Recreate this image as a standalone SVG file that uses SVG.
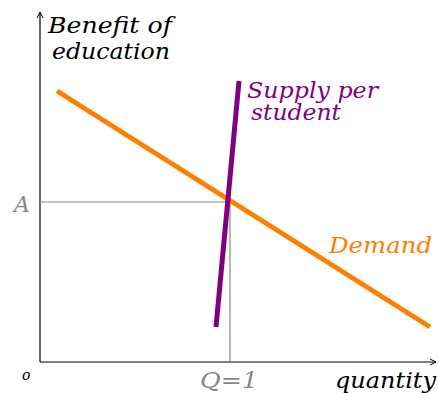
<svg xmlns="http://www.w3.org/2000/svg" width="438" height="393" viewBox="0 0 438 393">
<style>
text{font-family:"DejaVu Serif","Liberation Serif",serif;font-style:italic;font-size:22px}
.axis{stroke:#000;stroke-width:1.2;fill:none}
.guide{stroke:#888;stroke-width:1.2;fill:none}
</style>
<defs>
<marker id="ah" markerWidth="8" markerHeight="8" refX="6" refY="4" orient="auto" markerUnits="userSpaceOnUse">
<path d="M0,1 L6,4 L0,7" fill="none" stroke="#000" stroke-width="1"/>
</marker>
</defs>
<rect width="438" height="393" fill="#fff"/>
<g id="connectors">
<line class="axis" x1="40" y1="362" x2="40" y2="12" marker-end="url(#ah)"/>
<line class="axis" x1="40" y1="362" x2="436" y2="362" marker-end="url(#ah)"/>
<line class="guide" x1="40" y1="202" x2="230" y2="202"/>
<line class="guide" x1="230" y1="202" x2="230" y2="362"/>
</g>
<g id="demand">
<line x1="57" y1="91" x2="430" y2="327" stroke="#ff7f00" stroke-width="5"/>
<text x="329" y="253" fill="#ff7f00" textLength="103" lengthAdjust="spacingAndGlyphs">Demand</text>
</g>
<g id="supply">
<line x1="216" y1="327" x2="239" y2="81" stroke="#800080" stroke-width="5"/>
<text x="247" y="98" fill="#800080" textLength="131" lengthAdjust="spacingAndGlyphs">Supply per</text>
<text x="251" y="120" fill="#800080" textLength="90" lengthAdjust="spacingAndGlyphs">student</text>
</g>
<g id="ylabel">
<text x="48" y="33" fill="#000" textLength="124" lengthAdjust="spacingAndGlyphs">Benefit of</text>
<text x="52" y="59" fill="#000" textLength="118" lengthAdjust="spacingAndGlyphs">education</text>
</g>
<g id="labels">
<text x="14" y="212" fill="#888">A</text>
<text x="22" y="380" fill="#000" style="font-size:14px">o</text>
<text x="200" y="388" fill="#888" textLength="58" lengthAdjust="spacingAndGlyphs">Q=1</text>
<text x="335" y="388" fill="#000" textLength="101" lengthAdjust="spacingAndGlyphs">quantity</text>
</g>
</svg>
